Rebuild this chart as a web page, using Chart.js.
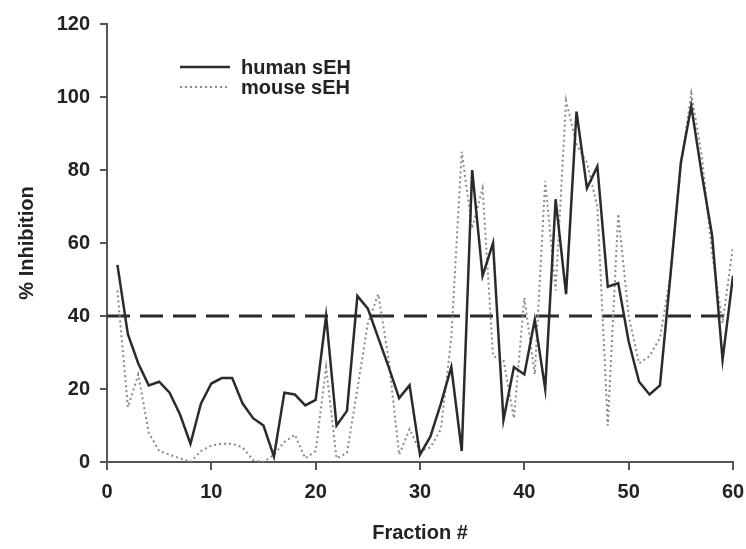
<!DOCTYPE html>
<html>
<head>
<meta charset="utf-8">
<title>% Inhibition by fraction</title>
<script src="https://cdn.jsdelivr.net/npm/chart.js@4"></script>
<style>
  html, body { margin: 0; padding: 0; background: #fff; }
  #wrap { position: relative; width: 746px; height: 549px; }
</style>
</head>
<body>
<div id="wrap"><canvas id="inhibitionChart"></canvas></div>
<script>
// fraction numbers 1..60
const fractions = [
  1, 2, 3, 4, 5, 6, 7, 8, 9, 10,
  11, 12, 13, 14, 15, 16, 17, 18, 19, 20,
  21, 22, 23, 24, 25, 26, 27, 28, 29, 30,
  31, 32, 33, 34, 35, 36, 37, 38, 39, 40,
  41, 42, 43, 44, 45, 46, 47, 48, 49, 50,
  51, 52, 53, 54, 55, 56, 57, 58, 59, 60
];

// % inhibition
const humanSEH = [
  54, 35, 27, 21, 22, 19, 13, 5, 16, 21.5,
  23, 23, 16, 12, 10, 1.5, 19, 18.5, 15.5, 17,
  40, 10, 14, 45.5, 42, 34, 26, 17.5, 21, 2,
  7, 16, 26, 3, 80, 51, 60, 11.5, 26, 24,
  39, 20, 72, 46, 96, 75, 81, 48, 49, 33,
  22, 18.5, 21, 51, 82, 97.5, 79, 62, 28, 51
];

const mouseSEH = [
  47, 15, 24, 8, 3, 2, 1, 0, 3, 4.5,
  5, 5, 4, 0.5, 0, 2, 5.5, 7.5, 1, 3,
  26, 1, 2.5, 20, 38, 46, 28, 2, 9, 3,
  4, 9, 34, 85, 64, 75, 29, 28, 12, 45,
  24, 77, 47, 99, 87, 82, 70, 10, 68, 40,
  27, 29, 34, 51, 81, 101, 84, 57, 38, 59
];

const threshold = 40;
const xTicks = [0, 10, 20, 30, 40, 50, 60];
const yTicks = [0, 20, 40, 60, 80, 100, 120];

const toPoints = (xs, ys) => xs.map((x, i) => ({ x: x, y: ys[i] }));

// legend drawn inside the plot, top left
const insideLegend = {
  id: 'insideLegend',
  afterDraw(chart) {
    const ctx = chart.ctx;
    const rows = chart.data.datasets.filter(d => d.inLegend);
    ctx.save();
    ctx.font = 'bold 20px "Liberation Sans", Arial, sans-serif';
    ctx.fillStyle = '#222';
    ctx.textBaseline = 'middle';
    rows.forEach((d, i) => {
      const y = 67 + i * 20;
      ctx.beginPath();
      ctx.strokeStyle = d.borderColor;
      ctx.lineWidth = d.borderWidth;
      ctx.setLineDash(d.borderDash || []);
      ctx.moveTo(180, y);
      ctx.lineTo(230, y);
      ctx.stroke();
      ctx.setLineDash([]);
      ctx.fillText(d.label, 241, y + 1);
    });
    ctx.restore();
  }
};

const tickFont = { family: '"Liberation Sans", Arial, sans-serif', size: 20, weight: 'bold' };

new Chart(document.getElementById('inhibitionChart'), {
  type: 'line',
  data: {
    datasets: [
      {
        label: 'human sEH',
        inLegend: true,
        data: toPoints(fractions, humanSEH),
        borderColor: '#2b2b2b',
        borderWidth: 2.5,
        pointRadius: 0,
        tension: 0
      },
      {
        label: 'mouse sEH',
        inLegend: true,
        data: toPoints(fractions, mouseSEH),
        borderColor: '#8a8a8a',
        borderWidth: 2,
        borderDash: [2, 3],
        pointRadius: 0,
        tension: 0
      },
      {
        label: 'threshold',
        data: [{ x: xTicks[0], y: threshold }, { x: xTicks[xTicks.length - 1], y: threshold }],
        borderColor: '#2b2b2b',
        borderWidth: 3,
        borderDash: [23, 10],
        pointRadius: 0
      }
    ]
  },
  options: {
    responsive: true,
    maintainAspectRatio: false,
    animation: false,
    layout: { padding: { top: 24, right: 13, left: 0, bottom: 0 } },
    scales: {
      x: {
        type: 'linear',
        min: 0,
        max: 60,
        afterBuildTicks: s => { s.ticks = xTicks.map(v => ({ value: v })); },
        afterFit: s => { s.height = 87; s.paddingRight = 0; s.paddingLeft = 0; },
        grid: { drawOnChartArea: false, drawTicks: true, tickLength: 8, color: '#555', lineWidth: 2 },
        border: { display: true, color: '#555', width: 2 },
        ticks: { color: '#222', font: tickFont, padding: 10, maxRotation: 0 },
        title: {
          display: true,
          text: 'Fraction #',
          color: '#222',
          font: tickFont,
          padding: { top: 0, bottom: 4 }
        }
      },
      y: {
        min: 0,
        max: 120,
        afterBuildTicks: s => { s.ticks = yTicks.map(v => ({ value: v })); },
        afterFit: s => { s.width = 107; },
        grid: { drawOnChartArea: false, drawTicks: true, tickLength: 7, color: '#555', lineWidth: 2 },
        border: { display: true, color: '#555', width: 2 },
        ticks: { color: '#222', font: tickFont, padding: 10 },
        title: {
          display: true,
          text: '% Inhibition',
          color: '#222',
          font: tickFont,
          padding: { top: 15, bottom: 0 }
        }
      }
    },
    plugins: {
      legend: { display: false },
      tooltip: { enabled: false }
    }
  },
  plugins: [insideLegend]
});
</script>
</body>
</html>
